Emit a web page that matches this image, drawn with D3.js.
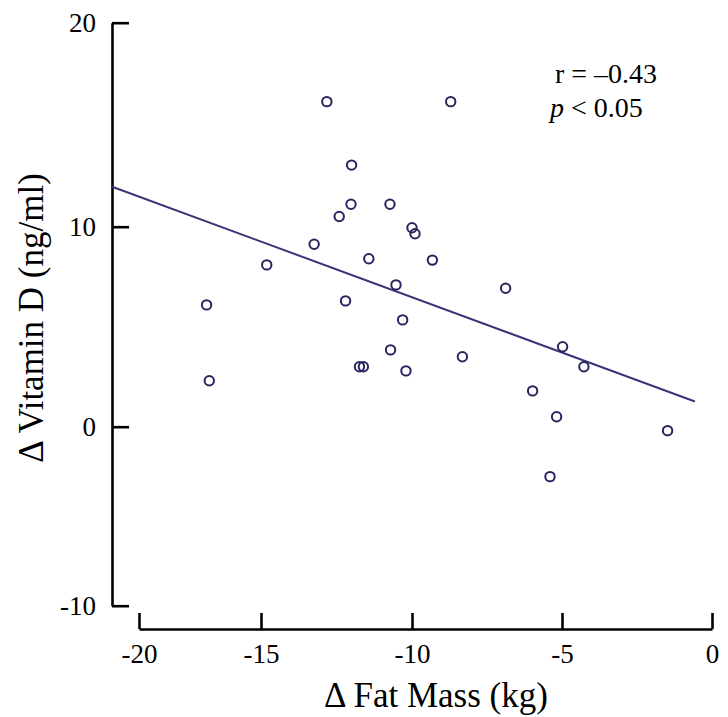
<!DOCTYPE html>
<html>
<head>
<meta charset="utf-8">
<script src="https://cdn.jsdelivr.net/npm/d3@7"></script>
<style>
	body { margin: 0; background: #fff; }
	text { font-family: "Liberation Serif", "Times New Roman", serif; fill: #000; }
</style>
</head>
<body>
<div id="chart"></div>
<script>
'use strict';

// change in fat mass (kg) and change in vitamin D (ng/ml)
var fatMass = [-12.82, -8.71, -12.0, -12.02, -10.73, -12.41, -10.0, -9.9, -13.24, -11.43,
	-9.32, -14.81, -10.53, -17.23, -12.2, -10.31, -10.71, -11.74, -11.61, -10.2,
	-17.12, -6.88, -8.32, -4.98, -4.27, -5.98, -5.18, -1.48, -5.4];
var vitD = [16.13, 16.13, 13.02, 11.1, 11.1, 10.5, 9.95, 9.65, 9.12, 8.4,
	8.33, 8.09, 7.09, 6.09, 6.29, 5.34, 3.84, 3.0, 3.0, 2.79,
	2.3, 6.92, 3.5, 4.0, 3.0, 1.79, 0.5, -0.22, -2.79];

// fitted line end points
var fitX = [-21.1, -0.57];
var fitY = [11.96, 1.26];

var xTicks = [-20, -15, -10, -5, 0];
var yTicks = [-10, 0, 10, 20];

var stats = ['r = \u20130.43', '< 0.05'];

main();

function main(){
	var width = 728,
		height = 717;

	var points = fatMass.map(function(d, i){ return {x: d, y: vitD[i]}; });

	// the original axes are not evenly spaced, so the scales are piecewise
	var x = d3.scaleLinear()
		.domain(xTicks)
		.range([139, 261, 412, 562, 712]);

	var y = d3.scaleLinear()
		.domain(yTicks)
		.range([605.7, 426.7, 226.7, 22.7]);

	// plain hyphen minus like the original
	var fmt = function(d){ return String(d); };

	var svg = d3.select('#chart')
		.append('svg')
			.attr('width', width)
			.attr('height', height);

	var yAxis = svg.append('g')
		.attr('transform', 'translate(112,0)')
		.call(d3.axisLeft(y)
			.tickValues(yTicks)
			.tickFormat(fmt)
			.tickSizeInner(-17)
			.tickSizeOuter(0)
			.tickPadding(16));

	var xAxis = svg.append('g')
		.attr('transform', 'translate(0,629)')
		.call(d3.axisBottom(x)
			.tickValues(xTicks)
			.tickFormat(fmt)
			.tickSizeInner(-16)
			.tickSizeOuter(0)
			.tickPadding(15));

	[yAxis, xAxis].forEach(function(g){
		g.selectAll('path, line')
			.attr('stroke', '#000')
			.attr('stroke-width', 2.6);
		g.selectAll('text')
			.style('font-family', '"Liberation Serif", serif')
			.style('font-size', '27px')
			.attr('fill', '#000');
	});

	// regression line
	svg.append('line')
		.attr('x1', x(fitX[0]))
		.attr('y1', y(fitY[0]))
		.attr('x2', x(fitX[1]))
		.attr('y2', y(fitY[1]))
		.attr('stroke', '#3b3478')
		.attr('stroke-width', 2);

	svg.selectAll('.mark')
		.data(points)
		.enter()
		.append('circle')
			.attr('class', 'mark')
			.attr('cx', function(d){ return x(d.x); })
			.attr('cy', function(d){ return y(d.y); })
			.attr('r', 4.7)
			.attr('fill', 'none')
			.attr('stroke', '#27255e')
			.attr('stroke-width', 2);

	// axis titles
	svg.append('text')
		.attr('x', 436)
		.attr('y', 707)
		.attr('text-anchor', 'middle')
		.style('font-size', '35px')
		.text('\u0394 Fat Mass (kg)');

	svg.append('text')
		.attr('transform', 'translate(43,318) rotate(-90)')
		.attr('text-anchor', 'middle')
		.style('font-size', '35px')
		.text('\u0394 Vitamin D (ng/ml)');

	// correlation note
	svg.append('text')
		.attr('x', 555)
		.attr('y', 83)
		.style('font-size', '28px')
		.text(stats[0]);

	var pText = svg.append('text')
		.attr('x', 550)
		.attr('y', 117)
		.style('font-size', '28px');
	pText.append('tspan')
		.style('font-style', 'italic')
		.text('p');
	pText.append('tspan')
		.text(' ' + stats[1]);
}
</script>
</body>
</html>
